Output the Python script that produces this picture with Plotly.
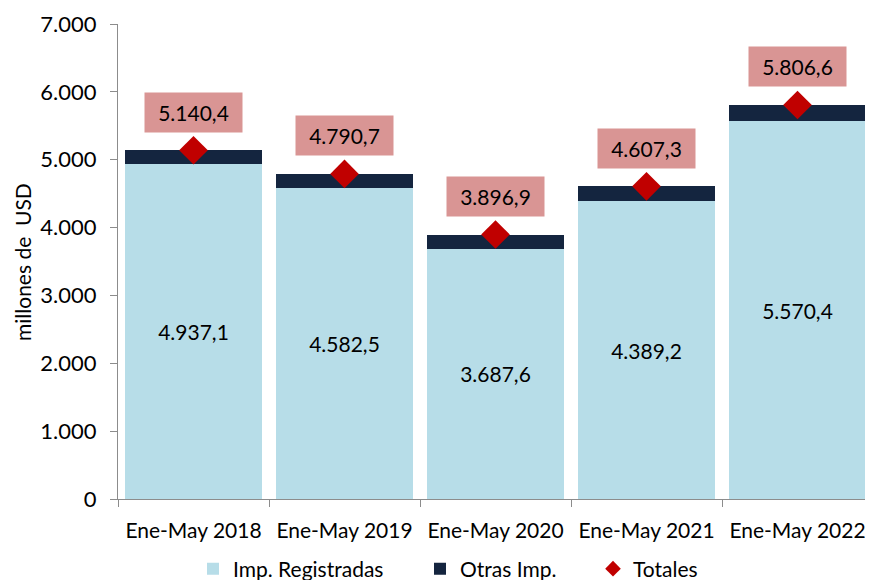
import plotly.graph_objects as go

categories = ["Ene-May 2018", "Ene-May 2019", "Ene-May 2020", "Ene-May 2021", "Ene-May 2022"]
registradas = [4937.1, 4582.5, 3687.6, 4389.2, 5570.4]
totales = [5140.4, 4790.7, 3896.9, 4607.3, 5806.6]
otras = [round(t - r, 1) for t, r in zip(totales, registradas)]
y_ticks = [0, 1000, 2000, 3000, 4000, 5000, 6000, 7000]

FONT = "Lato"
OFF = 8  # page body margin
W, H = 873 - OFF, 580 - OFF

def fmt(v):
    s = f"{v:,.1f}"
    return s.replace(",", "X").replace(".", ",").replace("X", ".")

fig = go.Figure()
fig.add_trace(go.Bar(
    x=categories, y=registradas, name="Imp. Registradas",
    marker=dict(color="#b7dde8", line=dict(width=0)),
    text=[fmt(v) for v in registradas], textposition="inside",
    insidetextanchor="middle", textangle=0,
    textfont=dict(size=21, color="#000000", family=FONT),
    legend="legend",
))
fig.add_trace(go.Bar(
    x=categories, y=otras, name="Otras Imp.",
    marker=dict(color="#14253f", line=dict(width=0)),
    hoverinfo="skip", legend="legend2",
))
fig.add_trace(go.Scatter(
    x=categories, y=totales, name="Totales", mode="markers",
    marker=dict(symbol="diamond", size=22, color="#c00000"),
    legend="legend3",
))

for c, t in zip(categories, totales):
    fig.add_annotation(
        x=c, y=t, text=fmt(t), showarrow=False, yshift=38,
        bgcolor="#d99594", width=95, height=37,
        font=dict(size=21, color="#000000", family=FONT),
    )

fig.add_annotation(
    xref="paper", yref="paper", x=(22 - 118) / 755, y=(499 - 262) / 475,
    xanchor="center", yanchor="middle",
    text="millones de  USD", textangle=-90, showarrow=False,
    font=dict(size=21, color="#000000", family=FONT),
)

leg_common = dict(orientation="h", xref="container", yref="container",
                  xanchor="left", yanchor="middle", y=1 - (569 - OFF) / H,
                  font=dict(size=21, family=FONT), bgcolor="rgba(0,0,0,0)",
                  itemsizing="constant")

fig.update_layout(
    width=W, height=H,
    barmode="stack", bargap=0.09,
    separators=",.",
    plot_bgcolor="white", paper_bgcolor="white",
    margin=dict(l=118 - OFF, r=0, t=24 - OFF, b=H - (499 - OFF), autoexpand=False),
    font=dict(family=FONT, color="#000000"),
    showlegend=True,
    legend=dict(x=(233 - OFF - 40) / W, **leg_common),
    legend2=dict(x=(460 - OFF - 40) / W, **leg_common),
    legend3=dict(x=(633 - OFF - 40) / W, **leg_common),
)
fig.update_xaxes(
    showline=True, linecolor="#8c8c8c", linewidth=1,
    ticks="outside", tickson="boundaries", ticklen=7, tickcolor="#8c8c8c",
    tickfont=dict(size=21, family=FONT), range=[-0.5, 4.5], automargin=False,
    ticklabelstandoff=13,
)
fig.update_yaxes(
    range=[0, 7000], tickvals=y_ticks, tickformat=",d",
    showline=True, linecolor="#8c8c8c", linewidth=1,
    ticks="outside", ticklen=7, tickcolor="#8c8c8c", showgrid=False,
    tickfont=dict(size=22, family=FONT), automargin=False,
    zeroline=False, ticklabelstandoff=9,
)

fig.write_html("out.html")
